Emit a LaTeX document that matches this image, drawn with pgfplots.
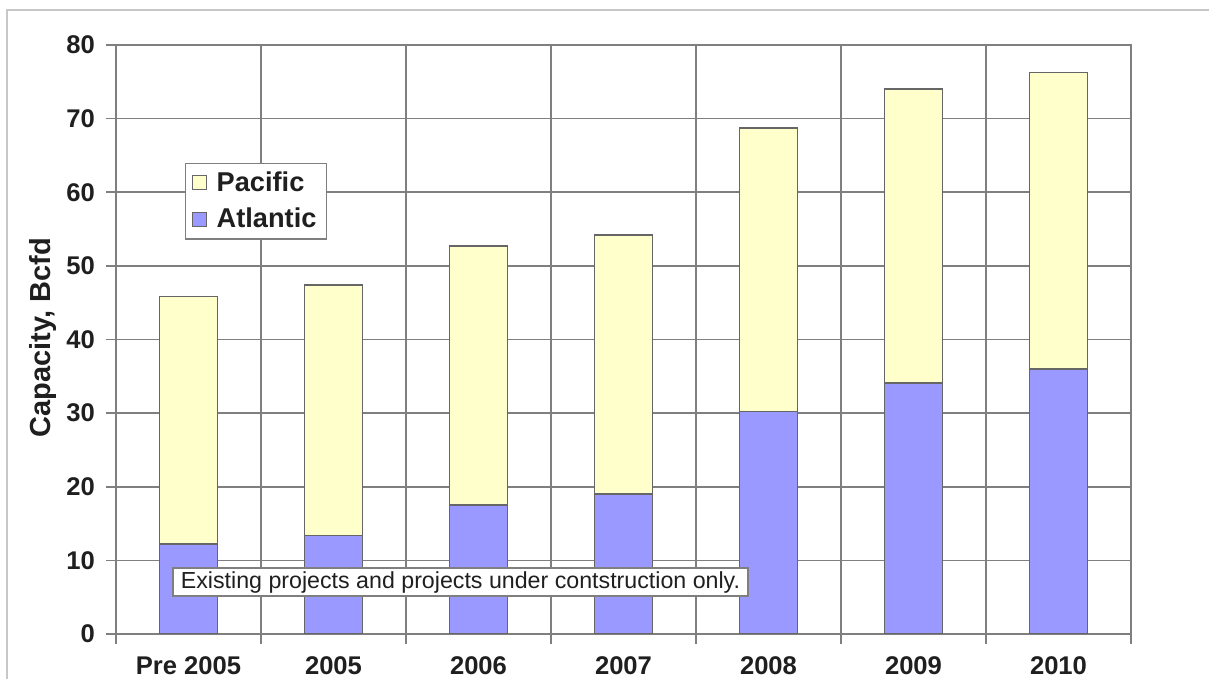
\documentclass[border=0pt]{standalone}
\usepackage{pgfplots}
\pgfplotsset{compat=1.18}
\usepackage{fontspec}
\setmainfont{Liberation Sans}
\definecolor{pacific}{HTML}{FFFFCC}
\definecolor{atlantic}{HTML}{9999FF}
\definecolor{gridc}{HTML}{7F7F7F}
\begin{document}
\begin{tikzpicture}
\path[use as bounding box] (0,0) rectangle (604.5pt,339.5pt);
\draw[color=black!22, line width=1pt] (3.5pt,-2pt) -- (3.5pt,334.5pt) -- (606pt,334.5pt);
\begin{axis}[
  at={(58pt,22.5pt)}, anchor=south west,
  scale only axis, width=507.5pt, height=294.5pt,
  ybar stacked, bar width=0.4,
  xmin=-0.5, xmax=6.5, ymin=0, ymax=80,
  xtick={0,...,6},
  xticklabels={Pre 2005,2005,2006,2007,2008,2009,2010},
  minor xtick={-0.5,0.5,...,6.5},
  xtick pos=bottom, ytick pos=left,
  xminorgrids, ymajorgrids,
  ytick={0,10,...,80},
  major x tick style={draw=none},
  tick align=outside,
  major tick length=5pt, minor tick length=5pt,
  every tick/.style={gridc, line width=0.8pt},
  minor x tick style={gridc, line width=0.8pt},
  grid style={gridc, line width=0.8pt},
  axis line style={gridc, line width=0.8pt},
  tick label style={font=\fontsize{12.8}{15}\selectfont\bfseries, text=black!88},
  /pgf/number format/assume math mode=true,
  xticklabel style={anchor=north, inner sep=0pt, yshift=-6.3pt},
  yticklabel style={anchor=east, xshift=-2pt},
  ylabel={Capacity, Bcfd},
  ylabel style={font=\fontsize{14.5}{17}\selectfont\bfseries, text=black!88, at={(axis description cs:-0.072,0.503)}, anchor=center},
  reverse legend,
  legend cell align=left,
  legend style={at={(rel axis cs:0.068,0.80)}, anchor=north west, draw=gridc, line width=0.7pt, fill=white,
    font=\fontsize{13.6}{16}\selectfont\bfseries, text=black!88, inner xsep=3pt, inner ysep=2pt, row sep=3pt,
    /tikz/every odd column/.append style={column sep=3pt},
    /tikz/every even column/.append style={column sep=5pt}},
  legend image code/.code={\draw[#1, line width=0.5pt] (0pt,-3.5pt) rectangle (7pt,3.5pt);},
]
\addplot[fill=atlantic, draw=black!60, line width=0.7pt] coordinates {(0,12.2) (1,13.4) (2,17.5) (3,19.0) (4,30.2) (5,34.1) (6,36.0)};
\addlegendentry{Atlantic}
\addplot[fill=pacific, draw=black!60, line width=0.7pt] coordinates {(0,33.6) (1,34.0) (2,35.2) (3,35.2) (4,38.5) (5,39.9) (6,40.3)};
\addlegendentry{Pacific}
\coordinate (ann) at (axis cs:1.876,7.06);
\end{axis}
\node[draw=gridc, line width=0.8pt, fill=white, minimum width=287.5pt, minimum height=14pt, inner sep=1pt,
  font=\fontsize{11.6}{13}\selectfont, text=black!88] at (ann) {Existing projects and projects under contstruction only.};
\end{tikzpicture}
\end{document}
